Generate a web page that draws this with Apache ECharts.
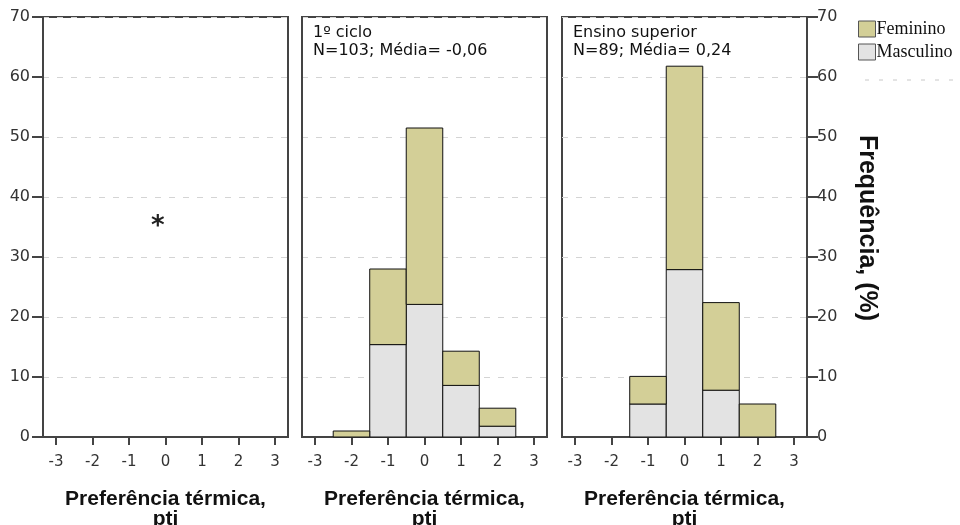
<!DOCTYPE html>
<html>
<head>
<meta charset="utf-8">
<script src="https://cdn.jsdelivr.net/npm/echarts@6/dist/echarts.min.js"></script>
<style>
  html, body { margin: 0; padding: 0; background: #fff; }
  #chart { width: 960px; height: 525px; }
</style>
</head>
<body>
<div id="chart"></div>
<script>
// bins of thermal preference (pti)
var bins = [-3, -2, -1, 0, 1, 2, 3]
var yTicks = [0, 10, 20, 30, 40, 50, 60, 70]

// panel titles
var panelTitles = ['', '1º ciclo\nN=103; Média= -0,06', 'Ensino superior\nN=89; Média= 0,24']

// % per bin, panel 1 is empty
var masc1 = [0, 0, 0, 0, 0, 0, 0]
var fem1 = [0, 0, 0, 0, 0, 0, 0]
// 1º ciclo
var masc2 = [0, 0, 15.4, 22.1, 8.6, 1.8, 0]
var fem2 = [0, 1.0, 12.6, 29.4, 5.7, 3.0, 0]
// Ensino superior
var masc3 = [0, 0, 5.5, 27.9, 7.8, 0, 0]
var fem3 = [0, 0, 4.6, 33.9, 14.6, 5.5, 0]

var colFem = '#d3cf97'
var colMasc = '#e3e3e3'
var frame = '#444'

var chart = echarts.init(document.getElementById('chart'))

var lefts = [43, 302, 562]
var gw = 245
var gh = 420
var xHalf = 3.355

// each item: [bin, base, value]
function stackItems(base, vals) {
  var out = []
  for (var i = 0; i < vals.length; i++) {
    if (vals[i] > 0) out.push([bins[i], base ? base[i] : 0, vals[i]])
  }
  return out
}

function renderBin(params, api) {
  var x = api.value(0)
  var b = api.value(1)
  var v = api.value(2)
  var p0 = api.coord([x - 0.5, b])
  var p1 = api.coord([x + 0.5, b + v])
  return {
    type: 'rect',
    shape: { x: p0[0], y: p1[1], width: p1[0] - p0[0], height: p0[1] - p1[1] },
    style: { fill: api.visual('color'), stroke: '#111', lineWidth: 1 }
  }
}

var grids = [], xAxes = [], yAxes = [], series = [], graphics = []
var mascData = [masc1, masc2, masc3]
var femData = [fem1, fem2, fem3]

for (var p = 0; p < 3; p++) {
  grids.push({
    left: lefts[p], top: 17, width: gw, height: gh,
    outerBoundsMode: 'none', containLabel: false,
    show: true, borderColor: frame, borderWidth: 2, backgroundColor: 'transparent'
  })
  xAxes.push({
    type: 'value', gridIndex: p, min: -xHalf, max: xHalf,
    name: 'Preferência térmica,\npti', nameLocation: 'middle', nameGap: 52,
    nameTextStyle: { fontFamily: 'Liberation Sans', fontWeight: 'bold', fontSize: 21, color: '#111', lineHeight: 20 },
    axisLine: { show: true, onZero: false, lineStyle: { color: frame, width: 2 } },
    axisTick: { show: true, length: 8, lineStyle: { color: frame, width: 2 }, customValues: bins },
    axisLabel: { fontFamily: 'DejaVu Sans', fontSize: 15, color: '#333', margin: 18, customValues: bins },
    splitLine: { show: false }
  })
  yAxes.push({
    type: 'value', gridIndex: p, min: 0, max: 70, interval: 10,
    position: p === 2 ? 'right' : 'left',
    axisLine: { show: true, onZero: false, lineStyle: { color: frame, width: 2 } },
    axisTick: { show: p !== 1, length: 11, lineStyle: { color: frame, width: 2 } },
    axisLabel: { show: p !== 1, fontFamily: 'DejaVu Sans', fontSize: 16, color: '#333', margin: p === 2 ? 10 : 13 },
    splitLine: { show: true, lineStyle: { color: '#d4d4d4', type: [6, 8], width: 1 } }
  })
  series.push({
    name: 'Masculino', type: 'custom', xAxisIndex: p, yAxisIndex: p,
    renderItem: renderBin, data: stackItems(null, mascData[p]),
    encode: { x: 0, y: 2 },
    itemStyle: { color: colMasc }
  })
  series.push({
    name: 'Feminino', type: 'custom', xAxisIndex: p, yAxisIndex: p,
    renderItem: renderBin, data: stackItems(mascData[p], femData[p]),
    encode: { x: 0, y: 2 },
    itemStyle: { color: colFem }
  })
  if (panelTitles[p]) {
    graphics.push({
      type: 'text', left: lefts[p] + 11, top: 24,
      style: { text: panelTitles[p], font: '16px "DejaVu Sans"', fill: '#111', lineHeight: 18 }
    })
  }
}

// empty panel marker
graphics.push({
  type: 'text', left: 151, top: 214,
  style: { text: '*', font: 'bold 26px "DejaVu Sans"', fill: '#222' }
})
// right axis title
graphics.push({
  type: 'text', x: 867, y: 228, rotation: -Math.PI / 2,
  style: { text: 'Frequência, (%)', font: 'bold 25px "Liberation Sans"', fill: '#111', align: 'center', verticalAlign: 'middle' }
})
// faint dashed line under legend
graphics.push({
  type: 'line', shape: { x1: 865, y1: 80, x2: 960, y2: 80 },
  style: { stroke: '#c8c8c8', lineWidth: 1, lineDash: [4, 10] }
})

var option = {
  animation: false,
  backgroundColor: '#fff',
  legend: {
    data: ['Feminino', 'Masculino'],
    orient: 'vertical', left: 853, top: 15,
    itemWidth: 17, itemHeight: 16, itemGap: 5,
    icon: 'rect',
    itemStyle: { borderColor: '#555', borderWidth: 1 },
    textStyle: { fontFamily: 'Liberation Serif', fontSize: 18, color: '#111', padding: [0, 0, 0, -4] }
  },
  grid: grids,
  xAxis: xAxes,
  yAxis: yAxes,
  series: series,
  graphic: graphics
}

chart.setOption(option, true)
</script>
</body>
</html>
